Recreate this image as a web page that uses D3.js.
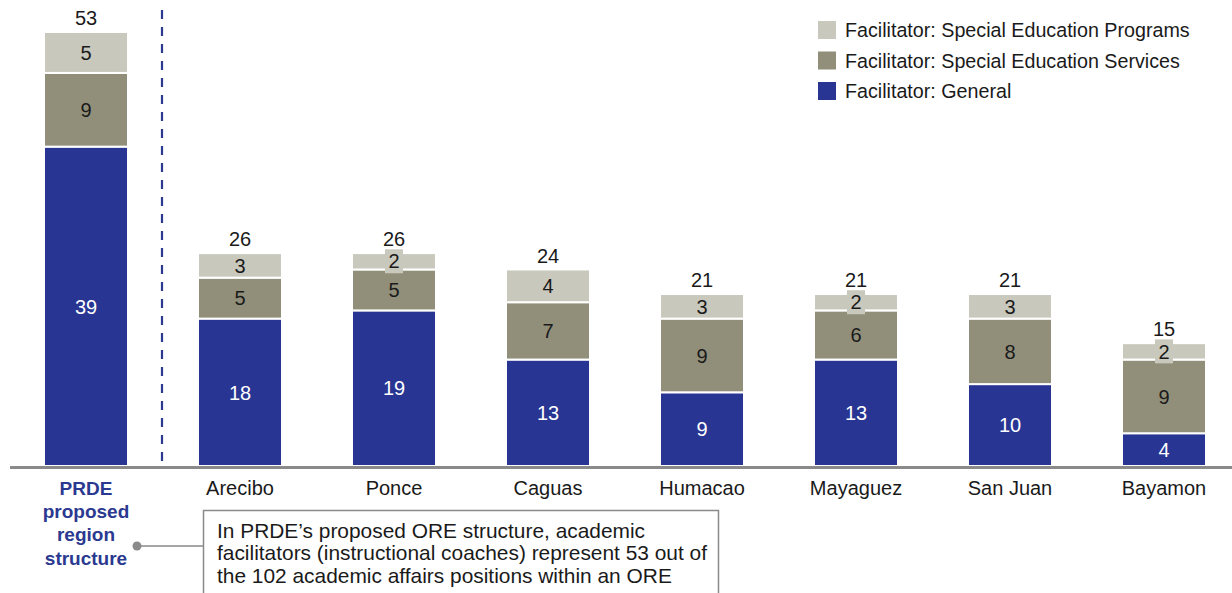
<!DOCTYPE html>
<html><head><meta charset="utf-8">
<script src="https://cdn.jsdelivr.net/npm/d3@7"></script>
<style>body{margin:0;background:#fff;}svg{display:block;font-family:"Liberation Sans",Arial,sans-serif;}</style>
</head><body>
<svg id="c" width="1232" height="593"></svg>
<script>
const categories = ["PRDE proposed region structure","Arecibo","Ponce","Caguas","Humacao","Mayaguez","San Juan","Bayamon"];
const general = [39,18,19,13,9,13,10,4];
const services = [9,5,5,7,9,6,8,9];
const programs = [5,3,2,4,3,2,3,2];
const seriesNames = ["Facilitator: General","Facilitator: Special Education Services","Facilitator: Special Education Programs"];
const colors = ["#283593","#918f7a","#c9c8bd"];
const prdeLabel = ["PRDE","proposed","region","structure"];
const noteLines = ["In PRDE\u2019s proposed ORE structure, academic","facilitators (instructional coaches) represent 53 out of","the 102 academic affairs positions within an ORE"];

const svg = d3.select("#c");
const baseY = 466;
const FS = 20;
const x = d3.scaleBand().domain(categories).range([9,1241]).paddingInner(70/154).paddingOuter(35/154);
const y = d3.scaleLinear().domain([0,53]).range([baseY,32]);

const table = categories.map((c,i)=>({cat:c, General:general[i], Services:services[i], Programs:programs[i]}));
const keys = ["General","Services","Programs"];
const stack = d3.stack().keys(keys)(table);

stack.forEach((layer,li)=>{
  const g = svg.append("g");
  layer.forEach(d=>{
    g.append("rect")
      .attr("x", x(d.data.cat))
      .attr("y", y(d[1]))
      .attr("width", x.bandwidth())
      .attr("height", y(d[0]) - y(d[1]))
      .attr("fill", colors[li])
      .attr("stroke","#fff").attr("stroke-width",2);
  });
});

// segment labels
stack.forEach((layer,li)=>{
  layer.forEach(d=>{
    const v = d[1]-d[0];
    const cx = x(d.data.cat)+x.bandwidth()/2;
    const cy = (y(d[0])+y(d[1]))/2;
    if (v <= 2) {
      svg.append("rect").attr("x",cx-9).attr("y",cy-12).attr("width",18).attr("height",24).attr("fill",colors[li]);
    }
    svg.append("text").attr("x",cx).attr("y",cy).attr("dy","0.36em")
      .attr("text-anchor","middle").attr("font-size",FS)
      .attr("fill", li===0 ? "#fff" : "#1a1a1a").text(v);
  });
});

// totals
table.forEach((d,i)=>{
  const tot = general[i]+services[i]+programs[i];
  svg.append("text").attr("x",x(d.cat)+x.bandwidth()/2).attr("y",y(tot)-14).attr("dy","0.36em")
    .attr("text-anchor","middle").attr("font-size",FS).attr("fill","#1a1a1a").text(tot);
});

// axis line
svg.append("line").attr("x1",10).attr("x2",1232).attr("y1",baseY+1.5).attr("y2",baseY+1.5)
  .attr("stroke","#8a8a8a").attr("stroke-width",3);

// dashed separator
const sepX = (x(categories[0])+x.bandwidth()+x(categories[1]))/2 - 1;
svg.append("line").attr("x1",sepX).attr("x2",sepX).attr("y1",10).attr("y2",baseY)
  .attr("stroke","#2b3990").attr("stroke-width",2.2).attr("stroke-dasharray","9,8");

// category labels
categories.slice(1).forEach(c=>{
  svg.append("text").attr("x",x(c)+x.bandwidth()/2).attr("y",488).attr("dy","0.36em")
    .attr("text-anchor","middle").attr("font-size",FS).attr("fill","#1a1a1a").text(c);
});
prdeLabel.forEach((t,i)=>{
  svg.append("text").attr("x",x(categories[0])+x.bandwidth()/2).attr("y",488+i*23.3).attr("dy","0.36em")
    .attr("text-anchor","middle").attr("font-size",19).attr("font-weight","bold").attr("fill","#2b3990").text(t);
});

// annotation
svg.append("line").attr("x1",137).attr("x2",203).attr("y1",546).attr("y2",546).attr("stroke","#888").attr("stroke-width",1.5);
svg.append("circle").attr("cx",137).attr("cy",546).attr("r",4.5).attr("fill","#8a8a8a");
svg.append("rect").attr("x",203.5).attr("y",510.5).attr("width",515).attr("height",100)
  .attr("fill","#fff").attr("stroke","#8a8a8a").attr("stroke-width",1.5);
noteLines.forEach((t,i)=>{
  svg.append("text").attr("x",217).attr("y",530+i*22.5).attr("dy","0.36em")
    .attr("font-size",20.9).attr("fill","#1a1a1a").text(t);
});

// legend
const legendOrder = [2,1,0];
legendOrder.forEach((si,i)=>{
  const ly = 30 + i*30.5;
  svg.append("rect").attr("x",818).attr("y",ly-9).attr("width",18).attr("height",18).attr("fill",colors[si]);
  svg.append("text").attr("x",845).attr("y",ly).attr("dy","0.36em").attr("font-size",19.7).attr("fill","#1a1a1a").text(seriesNames[si]);
});
</script>
</body></html>
